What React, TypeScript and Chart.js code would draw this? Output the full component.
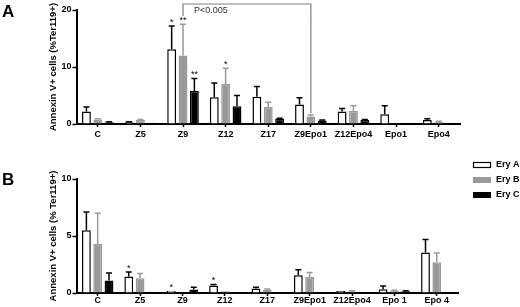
import React, { useEffect, useRef } from 'react';
import { Chart, registerables } from 'chart.js';

Chart.register(...registerables);

// ---------- Data ----------
const seriesNames = ['Ery A', 'Ery B', 'Ery C'];
const seriesFill = ['#ffffff', '#999999', '#000000'];
const seriesEdge = ['#000000', '#999999', '#000000'];

// Panel A
const categoriesA = ['C', 'Z5', 'Z9', 'Z12', 'Z17', 'Z9Epo1', 'Z12Epo4', 'Epo1', 'Epo4'];
const aEryA = [2.2, 0.3, 13.1, 4.7, 4.8, 3.4, 2.2, 1.7, 0.7];
const aEryAErr = [0.8, 0.1, 4.1, 2.5, 1.8, 1.2, 0.5, 1.5, 0.2];
const aEryB = [0.8, 0.7, 12.0, 7.0, 3.0, 1.3, 2.3, 0.1, 0.4];
const aEryBErr = [0.1, 0.1, 5.5, 2.8, 0.8, 0.3, 0.9, 0, 0.1];
const aEryC = [0.3, 0.2, 5.8, 3.1, 0.9, 0.6, 0.7, 0.1, 0.1];
const aEryCErr = [0.1, 0, 2.2, 1.9, 0.1, 0.1, 0.1, 0, 0];
const aStarsA = ['', '', '*', '', '', '', '', '', ''];
const aStarsB = ['', '', '**', '*', '', '', '', '', ''];
const aStarsC = ['', '', '**', '', '', '', '', '', ''];
const aTicks = [0, 10, 20];
const aTitle = 'Annexin V+ cells (%Ter119+)';
const bracketFromCategory = 'Z9';
const bracketToCategory = 'Z9Epo1';
const bracketSeries = 1;
const bracketLabel = 'P<0.005';

// Panel B
const categoriesB = ['C', 'Z5', 'Z9', 'Z12', 'Z17', 'Z9Epo1', 'Z12Epo4', 'Epo 1', 'Epo 4'];
const bEryA = [5.5, 1.45, 0.2, 0.65, 0.4, 1.55, 0.18, 0.32, 3.55];
const bEryAErr = [1.6, 0.4, 0, 0.1, 0.1, 0.5, 0, 0.3, 1.15];
const bEryB = [4.3, 1.3, 0.05, 0.15, 0.3, 1.4, 0.15, 0.2, 2.7];
const bEryBErr = [2.7, 0.4, 0, 0, 0.05, 0.4, 0.05, 0.05, 0.8];
const bEryC = [1.1, 0.1, 0.3, 0.05, 0, 0.1, 0.05, 0.15, 0.1];
const bEryCErr = [0.65, 0, 0.2, 0, 0, 0, 0, 0.05, 0];
const bStarsA = ['', '*', '*', '*', '', '', '', '', ''];
const bStarsB = ['', '', '', '', '', '', '', '', ''];
const bStarsC = ['', '', '', '', '', '', '', '', ''];
const bTicks = [0, 5, 10];
const bTitle = 'Annexin V+ cells (% Ter119+)';

const FONT = "'Liberation Sans', Arial, Helvetica, sans-serif";

// ---------- Plugins ----------
const errorBarPlugin = {
  id: 'errorBars',
  afterDatasetsDraw(chart: any) {
    const ctx = chart.ctx;
    const y = chart.scales.y;
    chart.data.datasets.forEach((ds: any, di: number) => {
      const meta = chart.getDatasetMeta(di);
      meta.data.forEach((bar: any, j: number) => {
        const v = ds.data[j];
        const e = ds.errors[j];
        const top = y.getPixelForValue(v);
        const et = y.getPixelForValue(v + e);
        ctx.save();
        if (e > 0) {
          ctx.strokeStyle = ds.errColor;
          ctx.lineWidth = 1.5;
          ctx.beginPath();
          ctx.moveTo(bar.x, top);
          ctx.lineTo(bar.x, et);
          ctx.moveTo(bar.x - 3, et);
          ctx.lineTo(bar.x + 3, et);
          ctx.stroke();
        }
        const s = ds.stars[j];
        if (s) {
          ctx.fillStyle = '#000';
          ctx.font = `9px ${FONT}`;
          ctx.textAlign = 'center';
          ctx.textBaseline = 'alphabetic';
          ctx.fillText(s, bar.x, et - 1);
        }
        ctx.restore();
      });
    });
  },
};

const panelLetterPlugin = {
  id: 'panelLetter',
  afterDraw(chart: any, _args: any, opts: any) {
    const ctx = chart.ctx;
    ctx.save();
    ctx.fillStyle = '#000';
    ctx.font = `bold 17px ${FONT}`;
    ctx.textAlign = 'left';
    ctx.textBaseline = 'alphabetic';
    ctx.fillText(opts.text, opts.x, opts.y);
    ctx.restore();
  },
};

const bracketPlugin = {
  id: 'bracket',
  afterDraw(chart: any, _args: any, opts: any) {
    if (!opts || !opts.enabled) return;
    const ctx = chart.ctx;
    const y = chart.scales.y;
    const ds = chart.data.datasets[opts.series];
    const meta = chart.getDatasetMeta(opts.series);
    const labels = chart.data.labels;
    const i1 = labels.indexOf(opts.from);
    const i2 = labels.indexOf(opts.to);
    const b1 = meta.data[i1];
    const b2 = meta.data[i2];
    const e1 = y.getPixelForValue(ds.data[i1] + ds.errors[i1]);
    const e2 = y.getPixelForValue(ds.data[i2] + ds.errors[i2]);
    const topY = y.getPixelForValue(y.max) - 6;
    ctx.save();
    ctx.strokeStyle = '#808080';
    ctx.lineWidth = 1.2;
    ctx.beginPath();
    ctx.moveTo(b1.x, e1 - 8);
    ctx.lineTo(b1.x, topY);
    ctx.lineTo(b2.x, topY);
    ctx.lineTo(b2.x, e2 - 2);
    ctx.stroke();
    ctx.fillStyle = '#333';
    ctx.font = `9px ${FONT}`;
    ctx.textAlign = 'left';
    ctx.textBaseline = 'alphabetic';
    ctx.fillText(opts.label, b1.x + 11, topY + 9);
    ctx.restore();
  },
};

const customLegendPlugin = {
  id: 'customLegend',
  afterDraw(chart: any, _args: any, opts: any) {
    if (!opts || !opts.enabled) return;
    const ctx = chart.ctx;
    ctx.save();
    chart.data.datasets.forEach((ds: any, i: number) => {
      const y0 = opts.y + i * 15;
      ctx.fillStyle = ds.backgroundColor;
      ctx.fillRect(opts.x, y0, 18, 6);
      if (ds.backgroundColor === '#ffffff') {
        ctx.strokeStyle = '#000';
        ctx.lineWidth = 1.2;
        ctx.strokeRect(opts.x + 0.5, y0 + 0.5, 17, 5);
      }
      ctx.fillStyle = '#000';
      ctx.font = `bold 9px ${FONT}`;
      ctx.textAlign = 'left';
      ctx.textBaseline = 'middle';
      ctx.fillText(ds.label, opts.x + 23, y0 + 3);
    });
    ctx.restore();
  },
};

// ---------- Config ----------
function buildDatasets(values: number[][], errs: number[][], stars: string[][]) {
  return seriesNames.map((name, i) => ({
    label: name,
    data: values[i],
    errors: errs[i],
    stars: stars[i],
    errColor: seriesEdge[i],
    backgroundColor: seriesFill[i],
    borderColor: seriesEdge[i],
    borderWidth: 1.5,
    categoryPercentage: 0.8,
    barPercentage: 0.78,
  }));
}

function buildConfig(p: {
  labels: string[];
  values: number[][];
  errs: number[][];
  stars: string[][];
  ticks: number[];
  title: string;
  padTop: number;
  padRight: number;
  xHeight: number;
  xPad: number;
  letter: { text: string; x: number; y: number };
  bracket: any;
  legend: any;
}): any {
  const tickFont = { family: FONT, size: 9, weight: 'bold' as const };
  return {
    type: 'bar',
    data: { labels: p.labels, datasets: buildDatasets(p.values, p.errs, p.stars) },
    plugins: [errorBarPlugin, panelLetterPlugin, bracketPlugin, customLegendPlugin],
    options: {
      responsive: false,
      animation: false,
      maintainAspectRatio: false,
      layout: { padding: { top: p.padTop, left: 45, right: p.padRight, bottom: 0 } },
      plugins: {
        legend: { display: false },
        tooltip: { enabled: false },
        panelLetter: p.letter,
        bracket: p.bracket,
        customLegend: p.legend,
      },
      scales: {
        x: {
          offset: true,
          grid: {
            offset: false,
            drawOnChartArea: false,
            drawTicks: true,
            tickLength: 3,
            tickWidth: 1.5,
            tickColor: '#000',
          },
          border: { display: true, color: '#000', width: 2 },
          ticks: { color: '#000', font: tickFont, padding: p.xPad, maxRotation: 0, autoSkip: false },
          afterFit(scale: any) {
            scale.height = p.xHeight;
          },
        },
        y: {
          min: p.ticks[0],
          max: p.ticks[p.ticks.length - 1],
          afterBuildTicks(scale: any) {
            scale.ticks = p.ticks.map((v) => ({ value: v }));
          },
          grid: {
            drawOnChartArea: false,
            drawTicks: true,
            tickLength: 4,
            tickWidth: 1.5,
            tickColor: '#000',
          },
          border: { display: true, color: '#000', width: 2 },
          ticks: { color: '#000', font: tickFont, padding: 1 },
          title: {
            display: true,
            text: p.title,
            color: '#000',
            font: { family: FONT, size: 9.5, weight: 'bold' },
            padding: { top: 3, bottom: 0 },
          },
          afterFit(scale: any) {
            scale.width = 31.5;
          },
        },
      },
    },
  };
}

function Panel(props: { config: any; width: number; height: number; top: number }) {
  const ref = useRef<HTMLCanvasElement | null>(null);
  useEffect(() => {
    if (!ref.current) return;
    const chart = new Chart(ref.current, props.config);
    return () => chart.destroy();
  }, []);
  return (
    <canvas
      ref={ref}
      width={props.width}
      height={props.height}
      style={{ position: 'absolute', left: 0, top: props.top, width: props.width, height: props.height }}
    />
  );
}

export default function App() {
  const configA = buildConfig({
    labels: categoriesA,
    values: [aEryA, aEryB, aEryC],
    errs: [aEryAErr, aEryBErr, aEryCErr],
    stars: [aStarsA, aStarsB, aStarsC],
    ticks: aTicks,
    title: aTitle,
    padTop: 10,
    padRight: 60,
    xHeight: 26,
    xPad: 2,
    letter: { text: 'A', x: 2, y: 17 },
    bracket: {
      enabled: true,
      from: bracketFromCategory,
      to: bracketToCategory,
      series: bracketSeries,
      label: bracketLabel,
    },
    legend: { enabled: false },
  });
  const configB = buildConfig({
    labels: categoriesB,
    values: [bEryA, bEryB, bEryC],
    errs: [bEryAErr, bEryBErr, bEryCErr],
    stars: [bStarsA, bStarsB, bStarsC],
    ticks: bTicks,
    title: bTitle,
    padTop: 29,
    padRight: 62,
    xHeight: 14,
    xPad: -1,
    letter: { text: 'B', x: 2, y: 35 },
    bracket: { enabled: false },
    legend: { enabled: true, x: 473, y: 12 },
  });
  return (
    <div style={{ position: 'absolute', left: 0, top: 0, width: 520, height: 307, background: '#fff' }}>
      <Panel config={configA} width={520} height={150} top={0} />
      <Panel config={configB} width={520} height={157} top={150} />
    </div>
  );
}
